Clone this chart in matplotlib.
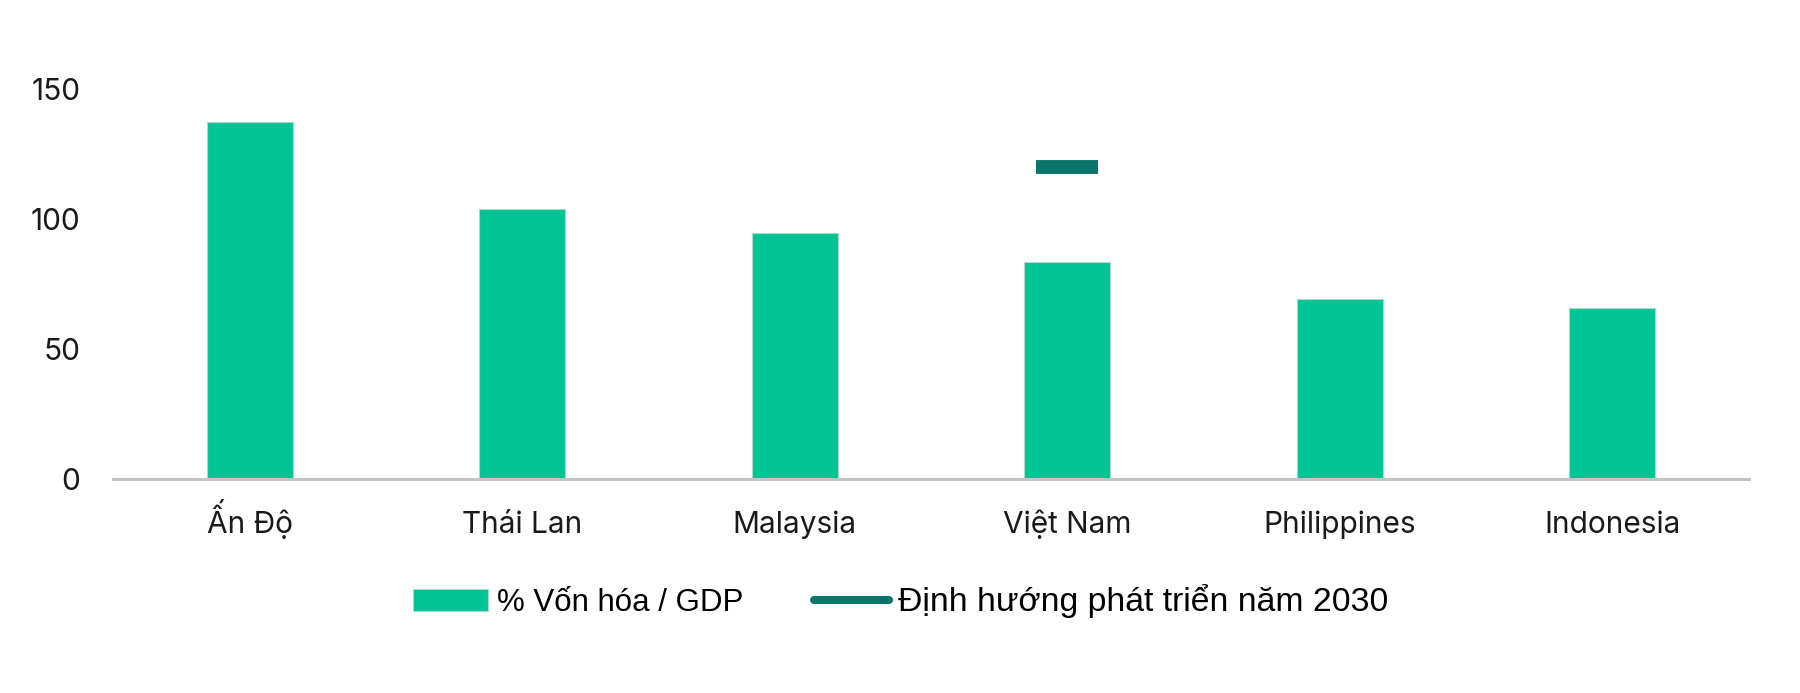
import numpy as np
import matplotlib.pyplot as plt
from matplotlib.patches import Patch
from matplotlib.lines import Line2D

# data
countries = ['Ấn Độ', 'Thái Lan', 'Malaysia', 'Việt Nam', 'Philippines', 'Indonesia']
von_hoa_gdp = [137.3, 103.7, 94.8, 83.4, 69.3, 65.8]
target_country = 'Việt Nam'
target_2030 = 120

bar_color = '#00C493'
line_color = '#0A756A'
tick_font = ['Inter', 'DejaVu Sans']
leg_font = ['Liberation Sans', 'DejaVu Sans']

fig = plt.figure(figsize=(18, 6.93), dpi=100)
ax = fig.add_axes([0.063, 0.309, 0.9085, 0.60])

x = np.arange(len(countries))
ax.bar(x, von_hoa_gdp, width=0.315, color=bar_color, edgecolor='#A8DCCB', linewidth=0.8, zorder=2)

# target 2030 (only Viet Nam)
xi = countries.index(target_country)
ax.plot(x[xi], target_2030, marker='_', markersize=45, markeredgewidth=10,
        color=line_color, linestyle='none', zorder=3)

ax.set_xlim(-0.5, len(countries) - 0.5)
ax.set_ylim(0, 160)
ax.set_yticks([0, 50, 100, 150])
ax.set_xticks(x)
ax.set_xticklabels(countries)

for s in ['top', 'right', 'left']:
    ax.spines[s].set_visible(False)
ax.spines['bottom'].set_color('#C4C4C4')
ax.spines['bottom'].set_linewidth(2.2)
ax.spines['bottom'].set_zorder(4)

ax.tick_params(axis='both', length=0, labelsize=21.5, colors='#1a1a1a')
ax.tick_params(axis='y', pad=24)
ax.tick_params(axis='x', pad=39)
for lab in ax.get_yticklabels():
    lab.set_family(tick_font)
for lab in ax.get_xticklabels():
    lab.set_family(tick_font)
    lab.set_verticalalignment('baseline')

handles = [
    Patch(facecolor=bar_color, edgecolor='#A8DCCB', linewidth=0.8),
    Line2D([0], [0], color=line_color, linewidth=5.8, solid_capstyle='round'),
]
labels = ['% Vốn hóa / GDP', 'Định hướng phát triển năm 2030']
leg = fig.legend(handles, labels, loc='center', bbox_to_anchor=(0.5003, 1 - 601 / 693),
                 ncol=2, frameon=False, handlelength=2.4, handletextpad=0.29,
                 columnspacing=2.24, prop={'family': leg_font, 'size': 22.5})
leg.get_texts()[1].set_fontsize(24.3)

fig.savefig('out.png', dpi=100)
